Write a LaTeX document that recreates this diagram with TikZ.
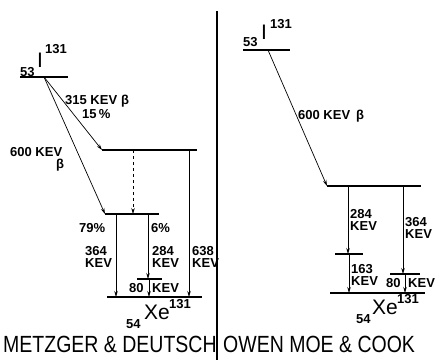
\documentclass[tikz,border=0pt]{standalone}
\usepackage{fontspec}
\setmainfont{Liberation Sans}
\usetikzlibrary{arrows.meta}

\tikzset{
  level/.style={line width=1.5pt},
  trans/.style={line width=0.7pt,-{Stealth[length=6pt,width=3.5pt]}},
  lab/.style={anchor=north west,inner sep=0pt,align=left,
    font=\fontsize{13}{12.5}\selectfont\bfseries},
  big/.style={anchor=north west,inner sep=0pt,font=\fontsize{21}{21}\selectfont},
  title/.style={anchor=base west,inner sep=0pt,font=\fontsize{19.5}{20}\selectfont},
}

\begin{document}
\begin{tikzpicture}[x=1pt,y=-1pt]
\useasboundingbox (0,0) rectangle (441,360);

% Metzger & Deutsch
\coordinate (iLa) at (20,77);
\coordinate (iLb) at (68,77);
\coordinate (iL) at (44,77);
\coordinate (uLa) at (102,150);
\coordinate (uLb) at (197,150);
\coordinate (mLa) at (105,214);
\coordinate (mLb) at (159,214);
\coordinate (eLa) at (137,279);
\coordinate (eLb) at (162,279);
\coordinate (gLa) at (107,297);
\coordinate (gLb) at (202,297);
\draw[level] (iLa) -- (iLb);
\draw[level] (uLa) -- (uLb);
\draw[level] (mLa) -- (mLb);
\draw[level] (eLa) -- (eLb);
\draw[level] (gLa) -- (gLb);
\draw[trans] (iL) -- (uLa);
\draw[trans] (iL) -- (mLa);
\draw[trans,dashed] (133,150) -- (133,214);
\draw[trans] (189,150) -- (189,297);
\draw[trans] (116,214) -- (116,297);
\draw[trans] (148,214) -- (148,279);
\draw[trans] (149,279) -- (149,297);

\node[lab] (n53L) at (20,67) {53};
\node[big] (nIL) at (37,53) {I};
\node[lab] (n131L) at (45,44) {131};
\node[lab] (l315) at (65,95) {315 KEV\hspace{4pt}β};
\node[lab] (l15) at (82,109) {15\,\%};
\node[lab] (l600) at (10,147) {600 KEV};
\node[lab] (lbeta) at (56,159) {β};
\node[lab] (l79) at (79,223) {79\%};
\node[lab] (l6) at (151,223) {6\%};
\node[lab] (l364) at (85,246) {364\\KEV};
\node[lab] (l284) at (152,246) {284\\KEV};
\node[lab] (l638) at (192,246) {638\\KEV};
\node[lab] (l80) at (129,283) {80};
\node[lab] (l80k) at (152,283) {KEV};
\node[lab] (x54L) at (126,319) {54};
\node[big] (xXeL) at (144,305) {Xe};
\node[lab] (x131L) at (169,299) {131};

% divider
\coordinate (dTop) at (217,11);
\coordinate (dBot) at (217,360);
\draw[line width=1.2pt] (dTop) -- (dBot);

% Owen, Moe & Cook
\coordinate (iRa) at (243,50);
\coordinate (iRb) at (290,50);
\coordinate (iR) at (268,50);
\coordinate (uRa) at (327,186);
\coordinate (uRb) at (421,186);
\coordinate (mRa) at (335,254);
\coordinate (mRb) at (363,254);
\coordinate (eRa) at (390,274);
\coordinate (eRb) at (420,274);
\coordinate (gRa) at (330,293);
\coordinate (gRb) at (425,293);
\draw[level] (iRa) -- (iRb);
\draw[level] (uRa) -- (uRb);
\draw[level] (mRa) -- (mRb);
\draw[level] (eRa) -- (eRb);
\draw[level] (gRa) -- (gRb);
\draw[trans] (iR) -- (uRa);
\draw[trans] (348,186) -- (348,254);
\draw[trans] (349,254) -- (349,293);
\draw[trans] (403,186) -- (403,274);
\draw[trans] (405,274) -- (405,293);

\node[lab] (n53R) at (243,37) {53};
\node[big] (nIR) at (261,25) {I};
\node[lab] (n131R) at (270,19) {131};
\node[lab] (r600) at (298,110) {600 KEV\hspace{6pt}β};
\node[lab] (r284) at (350,209) {284\\KEV};
\node[lab] (r364) at (405,217) {364\\KEV};
\node[lab] (r163) at (351,264) {163\\KEV};
\node[lab] (r80) at (386,278) {80};
\node[lab] (r80k) at (408,278) {KEV};
\node[lab] (x54R) at (356,314) {54};
\node[big] (xXeR) at (372,300) {Xe};
\node[lab] (x131R) at (397,294) {131};

\node[title] (tL) at (3,352) {\scalebox{1}[1.2]{METZGER \& DEUTSCH}};
\node[title] (tR) at (223,352) {\scalebox{1}[1.2]{OWEN MOE \& COOK}};
\end{tikzpicture}
\end{document}
